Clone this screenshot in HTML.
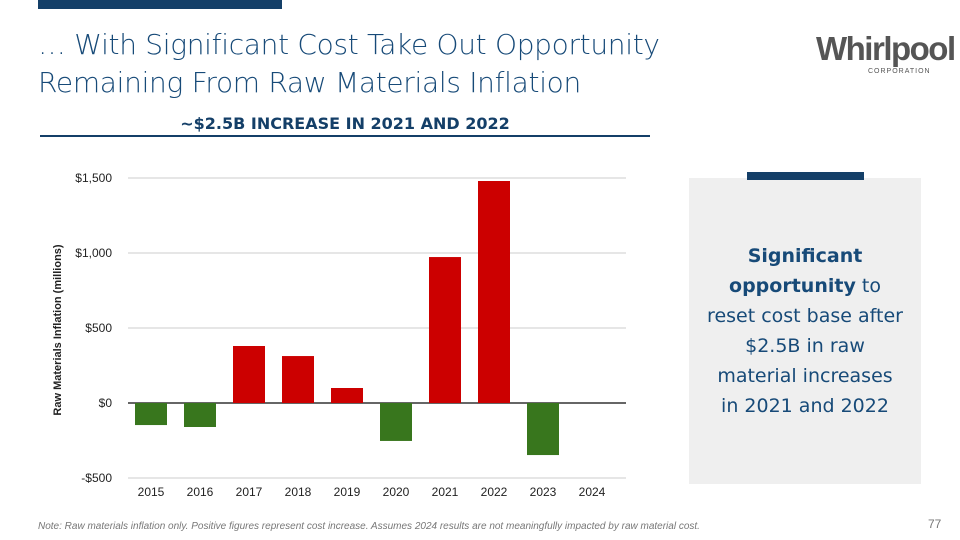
<!DOCTYPE html>
<html><head><meta charset="utf-8"><style>
body{margin:0;width:960px;height:540px;background:#fff;position:relative;overflow:hidden;font-family:"Liberation Sans",sans-serif}
.abs{position:absolute}
</style></head><body>
<div class="abs" style="left:38px;top:0;width:244px;height:9px;background:#143f68"></div>
<div class="abs" style="left:38px;top:26px;font-size:28px;line-height:38px;color:#174a78;font-family:'DejaVu Sans',sans-serif;font-weight:300;letter-spacing:-0.3px">… With Significant Cost Take Out Opportunity<br>Remaining From Raw Materials Inflation</div>
<div class="abs" style="left:816px;top:30px;font-size:33px;font-weight:bold;color:#555;letter-spacing:-1.5px">Whirlpool</div>
<div class="abs" style="left:868px;top:68px;font-size:7px;color:#555;letter-spacing:1px">CORPORATION</div>
<div class="abs" style="left:40px;top:114px;width:610px;text-align:center;font-size:16px;font-weight:bold;color:#143f68;font-family:'DejaVu Sans',sans-serif;line-height:20px">~$2.5B INCREASE IN 2021 AND 2022</div>
<div class="abs" style="left:40px;top:135px;width:610px;height:2px;background:#143f68"></div>
<div class="abs" style="left:689px;top:178px;width:232px;height:306px;background:#efefef"></div>
<div class="abs" style="left:747px;top:172px;width:117px;height:8px;background:#143f68"></div>
<div class="abs" style="left:689px;top:241px;width:232px;text-align:center;font-size:19px;line-height:30px;color:#174a78;font-family:'DejaVu Sans',sans-serif"><b>Significant<br>opportunity</b> to<br>reset cost base after<br>$2.5B in raw<br>material increases<br>in 2021 and 2022</div>
<div class="abs" style="left:928px;top:517px;font-size:12px;color:#777">77</div>
<div class="abs" style="left:38px;top:521px;font-size:10px;font-style:italic;color:#777">Note: Raw materials inflation only. Positive figures represent cost increase. Assumes 2024 results are not meaningfully impacted by raw material cost.</div>
<svg class="abs" style="left:0;top:0" width="960" height="540" id="chart"></svg>
<script>
const categories=["2015","2016","2017","2018","2019","2020","2021","2022","2023","2024"];
const values=[-147,-160,380,313,100,-253,973,1480,-347,0];
const ticks=[1500,1000,500,0,-500];
const tickLabels=["$1,500","$1,000","$500","$0","-$500"];
const svg=document.getElementById('chart');
const NS='http://www.w3.org/2000/svg';
const y=v=>403-v*0.15;
const x=i=>151+i*49;
function mk(t,a){const e=document.createElementNS(NS,t);for(const k in a)e.setAttribute(k,a[k]);svg.appendChild(e);return e;}
ticks.forEach((t,i)=>{
 const l=mk('line',{x1:128,x2:626,y1:y(t),y2:y(t),stroke:t===0?'#333':'#ccc','stroke-width':t===0?1.5:1});
 
 
 const tx=mk('text',{x:112,y:y(t)+4,'text-anchor':'end','font-size':12,fill:'#222','font-family':'Liberation Sans, sans-serif'});
 tx.textContent=tickLabels[i];
 
 
});
categories.forEach((c,i)=>{
 const v=values[i];
 if(v!==0){
  const r=mk('rect',{x:x(i)-16,y:Math.min(y(v),y(0)),width:32,height:Math.abs(y(v)-y(0)),fill:v>0?'#cc0000':'#38761d'});
  
  
 }
 const tx=mk('text',{x:x(i),y:496,'text-anchor':'middle','font-size':12,fill:'#222','font-family':'Liberation Sans, sans-serif'});
 tx.textContent=c;
 
 
});
const yt=mk('text',{x:0,y:0,transform:'translate(61,330) rotate(-90)','text-anchor':'middle','font-size':11,'font-weight':'bold',fill:'#222','font-family':'Liberation Sans, sans-serif'});
yt.textContent='Raw Materials Inflation (millions)';


</script>
</body></html>
